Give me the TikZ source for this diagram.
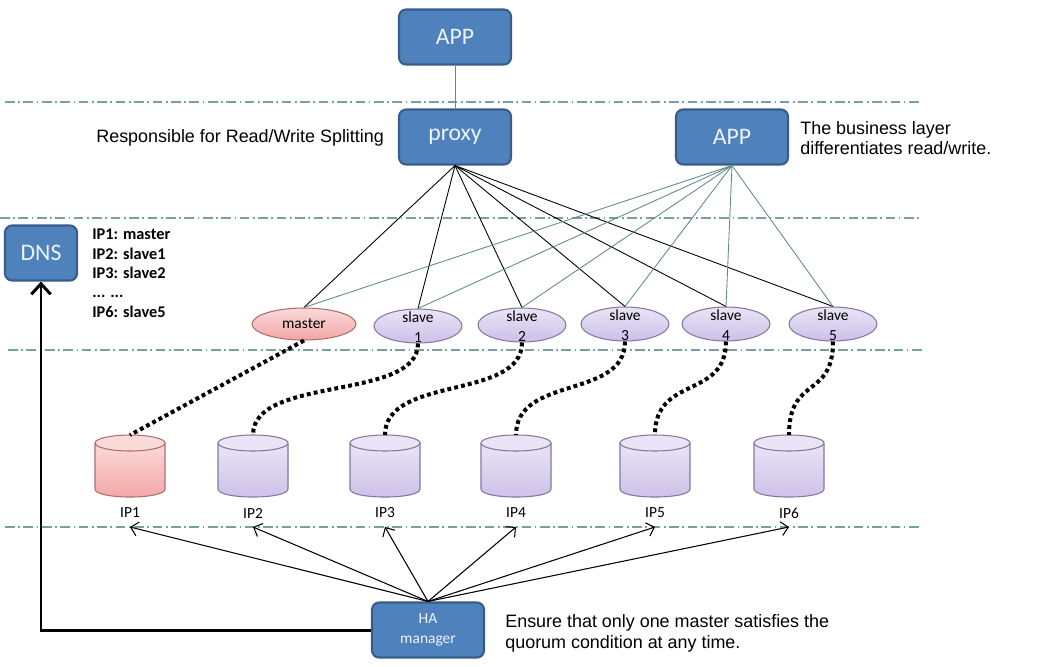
\documentclass[tikz,border=0pt]{standalone}
\usepackage{fontspec}
\setmainfont{Liberation Sans}
\newfontfamily\carl{Carlito}
\usetikzlibrary{shapes.geometric,arrows.meta}
\definecolor{boxfill}{RGB}{79,129,189}
\definecolor{boxdraw}{RGB}{56,93,138}
\definecolor{boxtext}{RGB}{238,243,250}
\definecolor{sepc}{RGB}{120,160,160}
\definecolor{appline}{RGB}{100,140,140}
\definecolor{pinktop}{RGB}{251,218,218}
\definecolor{pinkbot}{RGB}{242,165,165}
\definecolor{pinkdraw}{RGB}{175,110,110}
\definecolor{lavtop}{RGB}{234,228,246}
\definecolor{lavbot}{RGB}{204,192,232}
\definecolor{lavdraw}{RGB}{130,120,160}
\begin{document}
\begin{tikzpicture}[x=0.02cm,y=-0.02cm,
  bluebox/.style={draw=boxdraw, fill=boxfill, line width=1.2pt, rounded corners=4pt,
    minimum width=2.24cm, minimum height=1.1cm, text=boxtext,
    font=\carl\fontsize{13.5pt}{15pt}\selectfont, inner sep=0pt},
  sepline/.style={sepc, line width=0.6pt, dash pattern=on 5.5pt off 2pt on 1pt off 2pt},
  mstnode/.style={ellipse, draw=pinkdraw, line width=0.6pt, top color=pinktop, bottom color=pinkbot,
    minimum width=2.08cm, minimum height=0.64cm, inner sep=0pt},
  slvnode/.style={ellipse, draw=lavdraw, line width=0.6pt, top color=lavtop, bottom color=lavbot,
    minimum width=1.76cm, minimum height=0.68cm, inner sep=0pt},
  elltext/.style={align=center, inner sep=0pt, font=\carl\fontsize{8.8pt}{11.3pt}\selectfont},
  iplabel/.style={inner sep=0pt, font=\carl\fontsize{8.8pt}{10pt}\selectfont},
  proxyline/.style={black, line width=0.5pt},
  appln/.style={appline, line width=0.5pt},
  dotline/.style={black, line width=2.3pt, dash pattern=on 2.2pt off 1.8pt},
  haarrow/.style={black, line width=0.6pt, -{Straight Barb[length=4pt,width=8pt]}},
  maintext/.style={inner sep=0pt, align=left, font=\fontsize{10.2pt}{11.6pt}\selectfont}
]
\useasboundingbox (0,0) rectangle (1041,666);
\fill[white] (0,0) rectangle (1041,666);

% separators
\draw[sepline] (5,102) -- (922,102);
\draw[sepline] (0,218) -- (922,218);
\draw[sepline] (8,350) -- (922,350);
\draw[sepline] (5,527) -- (922,527);

% boxes
\node[bluebox] (app1) at (455,37) {APP};
\node[bluebox] (proxy) at (455,137) {proxy};
\node[bluebox] (app2) at (732,137) {APP};
\node[bluebox, minimum width=1.44cm] (dns) at (41,253) {DNS};
\node[bluebox, font=\carl\fontsize{8.8pt}{11.5pt}\selectfont, align=center] (ha) at (428,630) {HA\\manager};

\draw[appln] (app1.south) -- (proxy.north);

% texts
\node[maintext, anchor=west] (rw) at (96,138) {Responsible for Read/Write Splitting};
\node[maintext, anchor=west, font=\fontsize{10.2pt}{11.3pt}\selectfont] (biz) at (800,138) {The business layer\\differentiates read/write.};
\node[maintext, anchor=west, font=\fontsize{10.2pt}{11.9pt}\selectfont] (ens) at (505,633) {Ensure that only one master satisfies the\\quorum condition at any time.};
\node[anchor=north west, align=left, inner sep=0pt, font=\carl\bfseries\fontsize{9.3pt}{11pt}\selectfont] (iplist) at (92,229)
  {IP1: master\\IP2: slave1\\IP3: slave2\\... ...\\IP6: slave5};

% ellipses
\node[mstnode] (m) at (304,324) {};
\node[elltext] (mt) at (m.center) {master};
\foreach \n/\x/\y in {1/418/326, 2/522/325, 3/625/324, 4/726/324, 5/833/324}{
  \node[slvnode] (s\n) at (\x,\y) {};
  \node[elltext] (st\n) at ([yshift=-0.6pt]s\n.center) {slave\\\n};
}

% lines from proxy and app
\foreach \t in {m,s1,s2,s3,s4,s5}{
  \draw[proxyline] (proxy.south) -- (\t.north);
}
\foreach \t in {m,s1,s2,s3,s4,s5}{
  \draw[appln] (app2.south) -- (\t.north);
}

% cylinders
\foreach \n/\x/\cc in {1/130/pink, 2/253/lav, 3/385/lav, 4/516/lav, 5/655/lav, 6/789/lav}{
  \path[top color=\cc top, bottom color=\cc bot] (\x-35,443) -- (\x-35,489)
     .. controls (\x-35,499.7) and (\x+35,499.7) .. (\x+35,489) -- (\x+35,443) -- cycle;
  \draw[\cc draw, line width=0.6pt] (\x-35,443) -- (\x-35,489)
     .. controls (\x-35,499.7) and (\x+35,499.7) .. (\x+35,489) -- (\x+35,443);
  \filldraw[fill=\cc top, draw=\cc draw, line width=0.6pt] (\x,443) ellipse [x radius=35, y radius=8];
  \coordinate (iptop\n) at (\x,435);
  \node[iplabel] (ipl\n) at (\x,513) {IP\n};
  \coordinate (ipa\n) at (\x,527);
}

% dotted links
\draw[dotline] (m.south) -- (iptop1);
\foreach \s/\i in {1/2, 2/3, 3/4, 4/5, 5/6}{
  \draw[dotline] (s\s.south) .. controls ([yshift=-1.16cm]s\s.south) and ([yshift=1.2cm]iptop\i) .. (iptop\i);
}

% HA arrows
\foreach \i in {1,...,6}{
  \draw[haarrow] (ha.north) -- (ipa\i);
}

% DNS arrow
\draw[black, line width=1.7pt, -{Straight Barb[length=6pt,width=11pt]}] (ha.west) -| (dns.south);
\end{tikzpicture}
\end{document}
